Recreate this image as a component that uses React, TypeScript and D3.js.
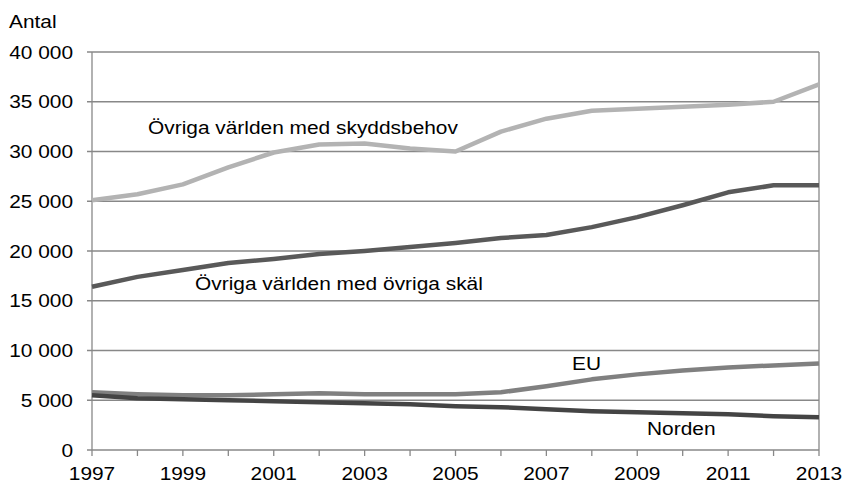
import React from "react";
import * as d3 from "d3";

const years = d3.range(1997, 2014);
const yearLabels = [1997, 1999, 2001, 2003, 2005, 2007, 2009, 2011, 2013];
const yTicks = [0, 5000, 10000, 15000, 20000, 25000, 30000, 35000, 40000];

const skydd = [25100, 25700, 26700, 28400, 29900, 30700, 30800, 30300, 30000, 32000, 33300, 34100, 34300, 34500, 34700, 35000, 36750];
const ovrigaSkal = [16400, 17400, 18100, 18800, 19200, 19700, 20000, 20400, 20800, 21300, 21600, 22400, 23400, 24600, 25900, 26600, 26600];
const eu = [5800, 5600, 5500, 5500, 5600, 5700, 5600, 5600, 5600, 5800, 6400, 7100, 7600, 8000, 8300, 8500, 8700];
const norden = [5500, 5200, 5100, 5000, 4900, 4800, 4700, 4600, 4400, 4300, 4100, 3900, 3800, 3700, 3600, 3400, 3300];

const series = [
  { name: "Övriga världen med skyddsbehov", values: skydd, color: "#b3b3b3" },
  { name: "Övriga världen med övriga skäl", values: ovrigaSkal, color: "#595959" },
  { name: "EU", values: eu, color: "#808080" },
  { name: "Norden", values: norden, color: "#444444" },
];

const labels = [
  { text: "Övriga världen med skyddsbehov", x: 148, y: 134 },
  { text: "Övriga världen med övriga skäl", x: 195, y: 290 },
  { text: "EU", x: 572, y: 370 },
  { text: "Norden", x: 647, y: 435 },
];

const fmt = (v: number) => d3.format(",")(v).replace(/,/g, " ");

const SX = 1.13;

function T(props: { x: number; y: number; anchor?: string; children: React.ReactNode }) {
  const { x, y, anchor = "start", children } = props;
  return (
    <text transform={`translate(${x},${y}) scale(${SX},1)`} textAnchor={anchor} fontSize={18.5} fill="#000">
      {children}
    </text>
  );
}

export default function App() {
  const W = 844, H = 484;
  const left = 92, right = 819, top = 52, bottom = 450;
  const x = d3.scaleLinear().domain([1997, 2013]).range([left, right]);
  const y = d3.scaleLinear().domain([0, 40000]).range([bottom, top]);
  const line = d3.line<number>().x((_, i) => x(years[i])).y((d) => y(d));
  const font = "'Liberation Sans', Arial, sans-serif";
  const grid = "#888888";
  return (
    <div style={{ position: "fixed", left: 0, top: 0 }}>
      <svg width={W} height={H} style={{ display: "block", background: "#fff" }} fontFamily={font}>
        {yTicks.map((t) => (
          <g key={t}>
            <line x1={left - 5} x2={right} y1={y(t)} y2={y(t)} stroke={grid} strokeWidth={1.3} />
            <T x={73} y={y(t) + 6.5} anchor="end">{fmt(t)}</T>
          </g>
        ))}
        <line x1={left} x2={left} y1={top} y2={bottom} stroke={grid} strokeWidth={1.3} />
        <line x1={right} x2={right} y1={top} y2={bottom} stroke={grid} strokeWidth={1.3} />
        {years.map((yr) => (
          <line key={yr} x1={x(yr)} x2={x(yr)} y1={bottom} y2={bottom + 6} stroke={grid} strokeWidth={1.3} />
        ))}
        {yearLabels.map((yr) => (
          <T key={yr} x={x(yr)} y={480} anchor="middle">{yr}</T>
        ))}
        <T x={9} y={28}>Antal</T>
        {series.map((s) => (
          <path key={s.name} d={line(s.values) || ""} fill="none" stroke={s.color} strokeWidth={4.5} strokeLinejoin="round" />
        ))}
        {labels.map((l) => (
          <T key={l.text} x={l.x} y={l.y}>{l.text}</T>
        ))}
      </svg>
    </div>
  );
}
